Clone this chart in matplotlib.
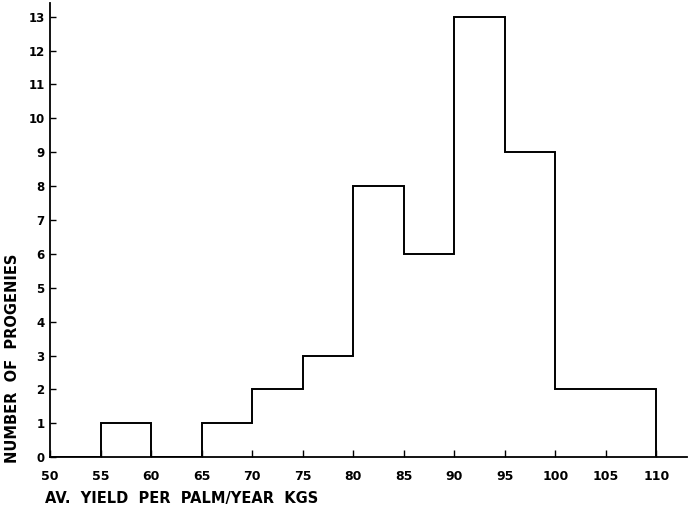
import matplotlib.pyplot as plt
import numpy as np

# bin edges (kg per palm per year) and progeny counts
BIN_EDGES = [50, 55, 60, 65, 70, 75, 80, 85, 90, 95, 100, 110]
COUNTS = [0, 1, 0, 1, 2, 3, 8, 6, 13, 9, 2]
X_TICKS = list(range(50, 111, 5))
Y_TICKS = list(range(0, 14))

fig = plt.figure(figsize=(6.88, 5.12), dpi=100)
ax = fig.add_axes([0.073, 0.107, 0.925, 0.887])

ax.stairs(COUNTS, BIN_EDGES, baseline=0, color="black", linewidth=1.4)

ax.set_xlim(50, 113)
ax.set_ylim(0, 13.4)
ax.set_xticks(X_TICKS)
ax.set_yticks(Y_TICKS)
ax.spines["top"].set_visible(False)
ax.spines["right"].set_visible(False)
for side in ("left", "bottom"):
    ax.spines[side].set_linewidth(1.3)

ax.tick_params(axis="x", direction="in", length=5, width=1, pad=9,
               labelsize=9)
ax.tick_params(axis="y", direction="in", length=4, width=1, pad=4,
               labelsize=8.5)
for lbl in ax.get_xticklabels() + ax.get_yticklabels():
    lbl.set_fontweight("bold")

fig.text(45 / 688, 1 - 498 / 512, "AV.  YIELD  PER  PALM/YEAR  KGS",
         fontsize=10.5, fontweight="bold", ha="left", va="center")
fig.text(13 / 688, 1 - 358 / 512, "NUMBER  OF  PROGENIES",
         fontsize=10.5, fontweight="bold", rotation=90,
         ha="center", va="center")

fig.savefig("out.png", dpi=100)
